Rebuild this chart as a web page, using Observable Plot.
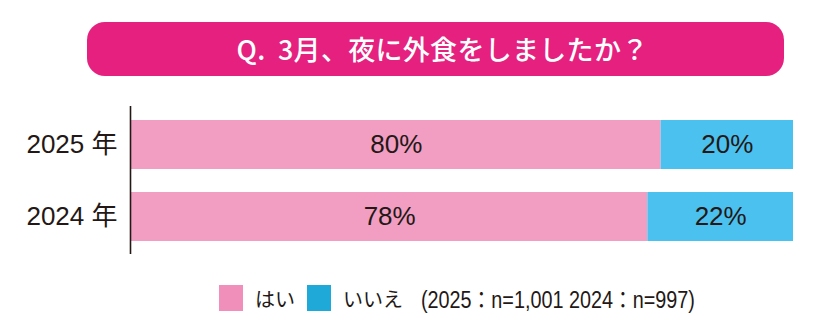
<!DOCTYPE html>
<html>
<head>
<meta charset="utf-8">
<script src="https://cdn.jsdelivr.net/npm/d3@7"></script>
<script src="https://cdn.jsdelivr.net/npm/@observablehq/plot@0.6"></script>
<style>
  body { margin: 0; background: #fff; }
  #wrap { position: relative; width: 820px; height: 330px; overflow: hidden; font-family: "Liberation Sans", "Noto Sans CJK JP", sans-serif; color: #231815; }
  #banner { position: absolute; left: 87px; top: 22px; width: 697px; height: 54px; background: #e5207f; border-radius: 18px; color: #fff; font-family: "Noto Sans CJK JP", sans-serif; font-weight: 500; font-size: 27px; line-height: 54px; text-align: center; letter-spacing: 0.3px; word-spacing: 6px; padding-left: 14px; box-sizing: border-box; }
  #chart { position: absolute; left: 0; top: 90px; }
  #legend { position: absolute; left: 219px; top: 281px; display: flex; align-items: center; font-size: 23px; font-family: "Liberation Sans", "Noto Sans CJK JP", sans-serif; white-space: nowrap; }
  .sw { width: 24px; height: 26px; display: inline-block; }
  .lab { font-family: "Noto Sans CJK JP", sans-serif; font-size: 20px; }
  .note { display: inline-block; transform: scaleX(0.86); transform-origin: left center; }
</style>
</head>
<body>
<div id="wrap">
  <div id="banner"></div>
  <div id="chart"></div>
  <div id="legend"></div>
</div>
<script>
const title = "Q. 3月、夜に外食をしましたか？";
const years = ["2025", "2024"];
const answers = ["はい", "いいえ"];
const yesValues = [80, 78];
const noValues = [20, 22];
const note = "(2025：n=1,001 2024：n=997)";
const barColors = ["#f19ec2", "#4bc1ef"];
const legendColors = ["#ef8fba", "#1fa9d9"];

document.getElementById("banner").textContent = title;

const data = [];
years.forEach((y, i) => {
  data.push({year: y, answer: answers[0], value: yesValues[i]});
  data.push({year: y, answer: answers[1], value: noValues[i]});
});

const plot = Plot.plot({
  width: 820,
  height: 175,
  marginLeft: 131,
  marginRight: 27,
  marginTop: 16,
  marginBottom: 11,
  style: {fontFamily: '"Liberation Sans", "Noto Sans CJK JP", sans-serif', color: "#231815", background: "transparent"},
  x: {domain: [0, 100], axis: null},
  y: {domain: years, paddingInner: 0.32, paddingOuter: 0.1875, label: null},
  color: {domain: answers, range: barColors},
  marks: [
    Plot.barX(data, Plot.stackX({x: "value", y: "year", fill: "answer", z: "answer", inset: 0})),
    Plot.textX(data, Plot.stackX({x: "value", y: "year", z: "answer", text: d => d.value + "%", fontSize: 26, fill: "#231815"})),
    Plot.axisY({tickSize: 0, tickPadding: 14, fontSize: 26, tickFormat: d => d + " 年", fill: "#231815"}),
    Plot.ruleX([0], {stroke: "#231815", strokeWidth: 1.6, dx: -1})
  ]
});
document.getElementById("chart").appendChild(plot);

const legend = document.getElementById("legend");
answers.forEach((a, i) => {
  const sw = document.createElement("span");
  sw.className = "sw";
  sw.style.background = legendColors[i];
  sw.style.marginRight = "12px";
  legend.appendChild(sw);
  const t = document.createElement("span");
  t.className = "lab";
  t.textContent = a;
  t.style.marginRight = i === 0 ? "12px" : "18px";
  legend.appendChild(t);
});
const n = document.createElement("span");
n.className = "note";
n.textContent = note;
legend.appendChild(n);
</script>
</body>
</html>
